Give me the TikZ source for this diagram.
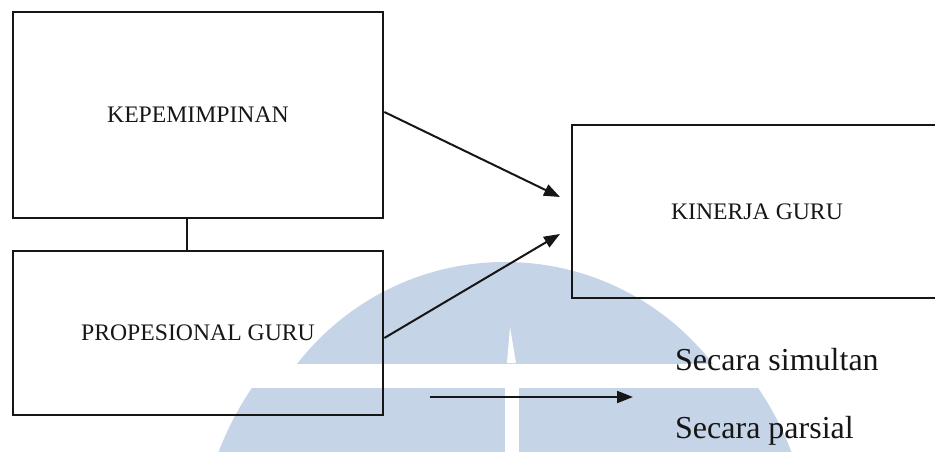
\documentclass[tikz,border=0pt]{standalone}
\usepackage{fontspec}
\setmainfont{Liberation Serif}
\usetikzlibrary{arrows.meta}
\definecolor{wmblue}{RGB}{198,212,231}
\definecolor{inkc}{RGB}{22,22,22}
\tikzset{
  varbox/.style={draw=inkc, line width=2.7pt, rectangle, inner sep=0pt,
    font=\fontsize{23.7}{28}\selectfont, text=inkc},
  conn/.style={draw=inkc, line width=2pt},
  arrowconn/.style={conn, -{Triangle[length=16pt,width=12pt]}},
  legendtext/.style={font=\fontsize{32}{38}\selectfont, text=inkc, inner sep=0pt, anchor=base west}
}
\begin{document}
\begin{tikzpicture}[x=1pt,y=-1pt]
\useasboundingbox (0,0) rectangle (935,452);
\clip (0,0) rectangle (935,452);
% watermark
\begin{scope}
  \clip (0,0) rectangle (935,363);
  \fill[wmblue] (505,525) circle[radius=263];
\end{scope}
\begin{scope}
  \clip (0,388) rectangle (935,452);
  \fill[wmblue] (505,560) circle[radius=306];
\end{scope}
\fill[white] (510,327) -- (507,363) -- (516,363) -- cycle;
\fill[white] (505,388) rectangle (519,452);
% boxes
\node[varbox, minimum width=370pt, minimum height=206pt] (lead) at (198,115) {KEPEMIMPINAN};
\node[varbox, minimum width=370pt, minimum height=164pt] (prof) at (198,333) {PROPESIONAL GURU};
\node[varbox, minimum width=370pt, minimum height=173pt] (perf) at (757,211.5) {KINERJA GURU};
% connectors
\coordinate (t1) at (560,197);
\coordinate (t2) at (560,234);
\draw[conn] ([xshift=-11pt]lead.south) -- ([xshift=-11pt]prof.north);
\draw[arrowconn] ([yshift=3pt]lead.east) -- (t1);
\draw[arrowconn] ([yshift=-5pt]prof.east) -- (t2);
% legend
\coordinate (l1) at (430,397);
\coordinate (l2) at (633,397);
\draw[arrowconn] (l1) -- (l2);
\node[legendtext] (sim) at (675,370) {Secara simultan};
\node[legendtext] (par) at (675,438) {Secara parsial};
\end{tikzpicture}
\end{document}
